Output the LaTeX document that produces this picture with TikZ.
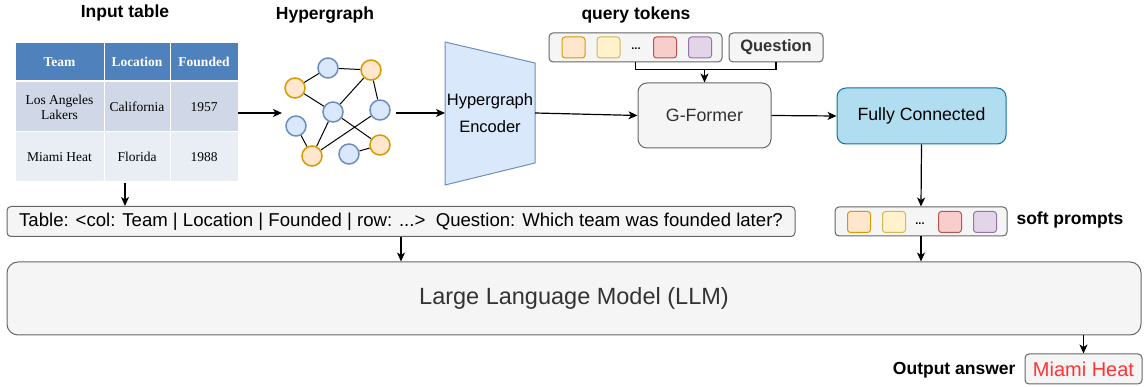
\documentclass[tikz,border=0pt]{standalone}
\usepackage{fontspec}
\setmainfont{Liberation Sans}
\newfontfamily\tabfont{Liberation Serif}
\usetikzlibrary{positioning}
\usetikzlibrary{calc}
\usetikzlibrary{arrows.meta}
\usetikzlibrary{backgrounds}

\definecolor{hdrblue}{HTML}{4F81BD}
\definecolor{rowone}{HTML}{D0D8E8}
\definecolor{rowtwo}{HTML}{E9EDF4}
\definecolor{bluefill}{HTML}{DAE8FC}
\definecolor{bluedraw}{HTML}{6C8EBF}
\definecolor{orafill}{HTML}{FFE6CC}
\definecolor{oradraw}{HTML}{D79B00}
\definecolor{yelfill}{HTML}{FFF2CC}
\definecolor{yeldraw}{HTML}{D6B656}
\definecolor{redfill}{HTML}{F8CECC}
\definecolor{reddraw}{HTML}{B85450}
\definecolor{purfill}{HTML}{E1D5E7}
\definecolor{purdraw}{HTML}{9673A6}
\definecolor{greyfill}{HTML}{F5F5F5}
\definecolor{greydraw}{HTML}{666666}
\definecolor{greytext}{HTML}{333333}
\definecolor{fcfill}{HTML}{B1DDF0}
\definecolor{fcdraw}{HTML}{10739E}
\definecolor{anstext}{HTML}{FF3333}

\tikzset{
	cell/.style={inner sep=0pt, draw=white, line width=1pt, font=\tabfont\fontsize{13.5}{15}\selectfont, align=center, minimum height=50pt},
	hdr/.style={cell, fill=hdrblue, text=white, minimum height=38pt, font=\tabfont\bfseries\fontsize{13.5}{15}\selectfont},
	vblue/.style={circle, draw=bluedraw, fill=bluefill, line width=1.5pt, minimum size=20pt, inner sep=0pt},
	vora/.style={circle, draw=oradraw, fill=orafill, line width=1.5pt, minimum size=20pt, inner sep=0pt},
	greybox/.style={draw=greydraw, fill=greyfill, rectangle, rounded corners=4pt, line width=1pt, inner sep=0pt},
	tok/.style={rectangle, rounded corners=3pt, line width=1pt, minimum width=23pt, minimum height=21pt, inner sep=0pt},
	title/.style={font=\bfseries\fontsize{17.5}{20}\selectfont},
	arr/.style={-{Stealth[length=9pt, width=8pt, inset=2.5pt]}, line width=1.2pt},
}

\begin{document}
\begin{tikzpicture}[x=1pt, y=-1pt]
		\useasboundingbox (0,0) rectangle (1144,387);

		% input table
		\node[title] at (125,13) (ttab) {Input table};
		\node[hdr, minimum width=89pt] at (59.5,62) (h1) {Team};
		\node[hdr, minimum width=66pt] at (137,62) (h2) {Location};
		\node[hdr, minimum width=68pt] at (204,62) (h3) {Founded};
		\node[cell, fill=rowone, minimum width=89pt] at (59.5,107) (r11) {Los Angeles\\Lakers};
		\node[cell, fill=rowone, minimum width=66pt] at (137,107) (r12) {California};
		\node[cell, fill=rowone, minimum width=68pt] at (204,107) (r13) {1957};
		\node[cell, fill=rowtwo, minimum width=89pt] at (59.5,157) (r21) {Miami Heat};
		\node[cell, fill=rowtwo, minimum width=66pt] at (137,157) (r22) {Florida};
		\node[cell, fill=rowtwo, minimum width=68pt] at (204,157) (r23) {1988};
		\coordinate (tab-e) at (238,113);
		\coordinate (tab-s) at (125,183);

		% hypergraph
		\node[title] at (325,15) (thg) {Hypergraph};
		\node[vblue] at (328,68) (v1) {};
		\node[vora] at (371,70) (v2) {};
		\node[vora] at (295,88) (v3) {};
		\node[vblue] at (333,112) (v4) {};
		\node[vblue] at (380,110) (v5) {};
		\node[vblue] at (296,126) (v6) {};
		\node[vora] at (312,156) (v7) {};
		\node[vblue] at (349,154) (v8) {};
		\node[vora] at (380,145) (v9) {};
		\coordinate (hg-w) at (282,113);
		\coordinate (hg-e) at (396,113);

		% encoder
		\coordinate (enc-nw) at (445,42);
		\coordinate (enc-ne) at (535,63);
		\coordinate (enc-se) at (535,163);
		\coordinate (enc-sw) at (445,185);
		\coordinate (enc-w) at (445,113);
		\coordinate (enc-e) at (535,113);
		\draw[draw=bluedraw, fill=bluefill, line width=1pt] (enc-nw) -- (enc-ne) -- (enc-se) -- (enc-sw) -- cycle;
		\node[align=center, font=\fontsize{16.5}{27}\selectfont] at (490,113) (enc) {Hypergraph\\Encoder};

		% query tokens
		\node[title] at (636,15) (tq) {query tokens};
		\node[greybox, minimum width=173pt, minimum height=29pt] at (635.5,47.5) (qbox) {};
		\node[tok, draw=oradraw, fill=orafill] at (573.5,47.5) (q1) {};
		\node[tok, draw=yeldraw, fill=yelfill, right=11pt of q1] (q2) {};
		\node[font=\bfseries\fontsize{11}{12}\selectfont] at (636,49) (qd) {...};
		\node[tok, draw=reddraw, fill=redfill] at (665,47.5) (q3) {};
		\node[tok, draw=purdraw, fill=purfill, right=11pt of q3] (q4) {};
		\node[greybox, minimum width=94pt, minimum height=29pt, text=greytext, font=\bfseries\fontsize{16.5}{18}\selectfont] at (776,47.5) (qn) {Question};

		% G-Former and fully connected
		\node[greybox, rounded corners=9pt, minimum width=133pt, minimum height=65pt, text=greytext, font=\fontsize{17.8}{20}\selectfont] at (704.5,115.5) (gf) {G-Former};
		\coordinate (qjoin) at ($(gf.north)+(0,-13)$);
		\node[draw=fcdraw, fill=fcfill, rectangle, rounded corners=9pt, line width=1pt, minimum width=169pt, minimum height=56pt, inner sep=0pt, font=\fontsize{17.7}{20}\selectfont] at (921.5,116) (fc) {Fully Connected};

		% soft prompts
		\node[greybox, minimum width=172pt, minimum height=29pt] at (921,221.5) (soft) {};
		\node[tok, draw=oradraw, fill=orafill] at (859,222) (s1) {};
		\node[tok, draw=yeldraw, fill=yelfill, right=11pt of s1] (s2) {};
		\node[font=\bfseries\fontsize{11}{12}\selectfont] at (920,223.5) (sd) {...};
		\node[tok, draw=reddraw, fill=redfill] at (950,222) (s3) {};
		\node[tok, draw=purdraw, fill=purfill, right=11pt of s3] (s4) {};
		\node[title, anchor=west] at (1013,220) (tsoft) {soft prompts};

		% text prompt, LLM, answer
		\node[greybox, minimum width=788pt, minimum height=30pt, font=\fontsize{18.6}{20}\selectfont] at (401,221.5) (txt)
		{Table: <col: Team \textbar{} Location \textbar{} Founded \textbar{} row: ...>\ \ Question: Which team was founded later?};
		\node[greybox, rounded corners=11pt, minimum width=1134pt, minimum height=73pt, text=greytext, font=\fontsize{23.5}{26}\selectfont] at (574,298.5) (llm) {Large Language Model (LLM)};
		\node[greybox, minimum width=117pt, minimum height=30pt, text=anstext, font=\fontsize{20}{22}\selectfont] at (1083.5,369) (ans) {Miami Heat};
		\node[title, anchor=east] at (1019,370) (tans) {Output answer};

		\begin{scope}[on background layer]
			\draw[line width=1pt] (v1) to (v2);
			\draw[line width=1pt] (v1) to (v3);
			\draw[line width=1pt] (v3) to (v4);
			\draw[line width=1pt] (v4) to (v2);
			\draw[line width=1pt] (v2) to (v5);
			\draw[line width=1pt] (v4) to (v9);
			\draw[line width=1pt] (v4) to (v7);
			\draw[line width=1pt] (v6) to (v7);
			\draw[line width=1pt] (v7) to (v5);
			\draw[line width=1pt] (v8) to (v9);
		\end{scope}

		\draw[arr] (tab-e) to (hg-w);
		\draw[arr] (hg-e) to (enc-w);
		\draw[arr] (enc-e) to (gf.west);
		\draw[line width=1.2pt] (qbox.south) |- (qjoin) -| (qn.south);
		\draw[arr] (qjoin) to (gf.north);
		\draw[arr] (gf.east) to (fc.west);
		\draw[arr] (fc.south) to (soft.north);
		\draw[arr] (tab-s) to (txt.north -| tab-s);
		\draw[arr] (txt.south) to (llm.north -| txt.south);
		\draw[arr] (soft.south) to (llm.north -| soft.south);
		\draw[arr] (ans.north |- llm.south) to (ans.north);
	\end{tikzpicture}
\end{document}
